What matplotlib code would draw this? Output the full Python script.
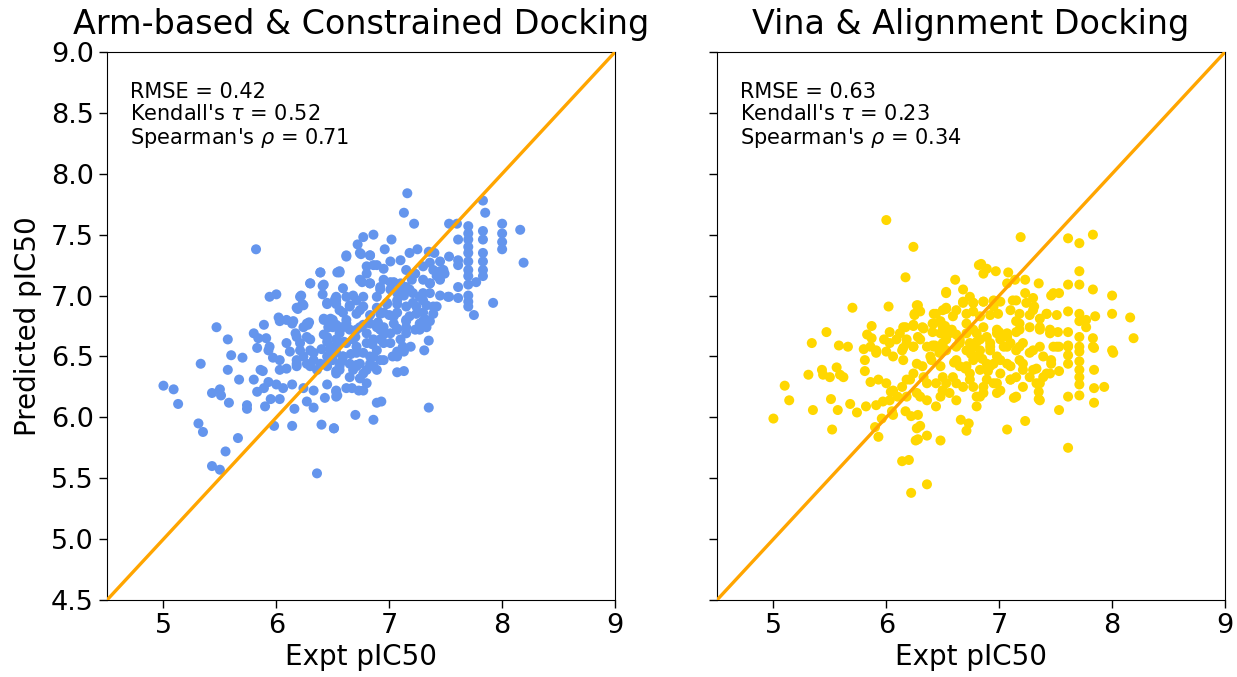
import numpy as np
import matplotlib
matplotlib.use("Agg")
import matplotlib.pyplot as plt


#%% Data
# Left panel: Arm-based & Constrained Docking
Expt_Arm = [
    5.82, 6.39, 6.54, 6.30, 6.41, 6.41, 6.22, 6.00, 5.94, 6.23, 6.19, 6.45, 6.52, 6.02, 6.09, 6.14,
    5.47, 5.89, 6.29, 6.24, 6.42, 6.48, 6.46, 6.53,
    7.16, 7.13, 7.22, 7.83, 7.85, 7.53, 7.60, 8.00, 8.16, 8.19,
    7.70, 7.70, 7.70, 7.70, 7.70, 7.70, 7.70, 7.70, 7.70, 7.70, 7.70, 7.70,
    7.83, 7.83, 7.83, 7.83, 7.83, 7.83, 8.00, 8.00, 8.00, 7.77, 7.92, 7.75,
    7.61, 7.61, 7.61, 7.61, 7.61, 7.53, 7.48, 7.45, 7.49, 7.53,
    6.77, 6.72, 6.86, 7.02, 6.96, 7.18, 7.25, 7.10, 7.01, 6.62, 6.74, 6.83, 6.56,
    7.35, 7.40, 7.36, 7.45, 7.30, 7.39, 7.45, 6.80, 6.86, 6.95, 7.15, 7.23, 7.20, 7.30, 7.36,
    6.74, 6.83, 6.95, 7.04, 7.10, 7.15, 6.59, 6.53, 6.68, 6.77, 6.92, 7.01, 7.07, 7.13, 7.21,
    7.27, 7.36, 7.45, 7.52,
    6.53, 6.65, 6.77, 6.89, 6.98, 7.07, 7.15, 7.24, 7.33, 7.42,
    6.59, 6.71, 6.83, 6.95, 7.07, 7.18, 7.30, 7.39,
    6.50, 6.62, 6.77, 6.89, 7.04, 7.15, 7.27, 7.36,
    5.57, 5.33, 5.60, 5.70, 5.57, 5.67, 5.00, 5.09, 5.13, 5.43, 5.50, 5.51, 5.58, 5.74, 5.74,
    5.31, 5.35, 5.66, 5.55, 5.43, 5.50, 6.36, 5.98, 6.14, 6.40, 6.51,
    6.16, 6.33, 6.27, 6.43, 6.53, 5.90, 5.95, 6.03,
    5.80, 5.86, 5.88, 5.93, 5.83, 5.89, 6.00, 6.06, 6.14, 6.24, 6.33, 6.45, 6.53, 6.03, 6.09,
    6.18, 6.27, 6.36, 6.45, 6.53,
    5.80, 5.84, 5.91, 5.94, 5.83, 5.93, 6.09, 6.17, 6.12, 6.21, 6.27, 6.30, 6.24, 6.33, 6.18,
    5.97, 6.03, 6.42, 6.48, 6.53, 6.45, 6.39, 6.53, 6.56, 6.28, 6.03, 6.14,
    7.35, 6.89, 6.93, 6.70, 6.86, 6.51, 6.53, 6.54, 6.62, 6.67, 6.73, 6.77, 6.80, 7.07, 7.13,
    6.65, 6.74, 6.77, 6.89, 6.83, 6.71, 6.53, 7.03, 7.07, 7.13, 7.19, 7.31,
    7.35, 7.33, 7.30, 7.23, 7.15, 7.07, 7.10, 7.01, 6.95, 6.89, 6.86, 6.92,
    6.50, 6.56, 6.65, 6.74, 6.80, 6.53, 6.62, 6.71, 6.77, 6.86, 6.50, 6.59, 6.65, 6.74, 6.56,
    6.68, 6.80,
    6.60, 6.70, 6.85, 6.95, 6.45, 6.62, 6.90, 7.00, 6.40, 6.58, 6.66, 6.92,
    # dense core
    6.62, 6.75, 6.83, 6.39, 6.56, 6.30, 6.42, 6.80, 6.89, 6.83, 6.76, 6.92,
    7.01, 7.10, 7.18, 7.30, 7.36, 7.42, 6.21, 6.24, 6.18,
    6.45, 6.53, 6.62, 6.71, 6.65, 6.56, 6.74,
    6.89, 6.98, 7.07, 7.13, 7.21, 7.30, 7.39, 6.92, 7.04, 7.15, 7.24, 7.33,
    6.15, 6.27, 6.42, 6.50, 6.59, 6.71, 6.83, 6.95, 7.07, 7.15, 7.27,
    6.18, 6.30, 6.45, 6.56, 6.68, 6.80, 6.92, 7.01, 7.12, 6.21, 6.33, 6.48, 6.59, 6.71, 6.83,
    6.95, 7.07, 6.18, 6.30, 6.45, 6.56, 6.71, 6.86,
]
Pred_Arm = [
    7.38, 7.19, 7.19, 7.10, 7.08, 7.01, 7.00, 7.01, 6.99, 6.93, 6.89, 6.93, 6.97, 6.82, 6.80, 6.78,
    6.74, 6.76, 6.78, 6.74, 6.81, 6.81, 6.74, 6.76,
    7.84, 7.68, 7.59, 7.78, 7.68, 7.59, 7.59, 7.59, 7.54, 7.27,
    7.57, 7.51, 7.46, 7.40, 7.35, 7.28, 7.21, 7.16, 7.09, 7.00, 6.95, 6.91,
    7.53, 7.46, 7.35, 7.28, 7.21, 7.16, 7.51, 7.44, 7.38, 7.11, 6.94, 6.84,
    7.46, 7.29, 7.25, 7.07, 6.98, 7.32, 7.21, 7.13, 7.18, 6.99,
    7.48, 7.42, 7.50, 7.46, 7.38, 7.35, 7.38, 7.29, 7.28, 7.32, 7.35, 7.33, 7.20,
    7.36, 7.35, 7.27, 7.28, 7.24, 7.21, 7.20, 7.24, 7.25, 7.22, 7.21, 7.18, 7.13, 7.13, 7.10,
    7.13, 7.10, 7.13, 7.11, 7.07, 7.07, 7.06, 6.99, 7.00, 6.99, 7.05, 7.05, 7.02, 7.00, 7.02,
    6.99, 7.02, 7.00, 6.99,
    6.93, 6.92, 6.91, 6.90, 6.93, 6.93, 6.91, 6.91, 6.92, 6.91,
    6.86, 6.85, 6.84, 6.86, 6.86, 6.83, 6.86, 6.85,
    6.80, 6.77, 6.76, 6.74, 6.77, 6.74, 6.77, 6.79,
    6.64, 6.44, 6.51, 6.49, 6.39, 6.31, 6.26, 6.23, 6.11, 6.20, 6.23, 6.18, 6.12, 6.10, 6.07,
    5.95, 5.88, 5.83, 5.72, 5.60, 5.57, 5.54, 5.93, 5.93, 5.94, 5.91,
    6.07, 6.08, 6.13, 6.16, 6.17, 6.09, 6.15, 6.15,
    6.31, 6.39, 6.38, 6.29, 6.21, 6.24, 6.27, 6.24, 6.27, 6.24, 6.22, 6.27, 6.21, 6.39, 6.40,
    6.42, 6.44, 6.39, 6.42, 6.36,
    6.69, 6.65, 6.65, 6.58, 6.57, 6.55, 6.61, 6.69, 6.54, 6.61, 6.66, 6.55, 6.50, 6.47, 6.47,
    6.49, 6.47, 6.68, 6.58, 6.53, 6.50, 6.44, 6.64, 6.74, 6.76, 6.79, 6.77,
    6.08, 6.12, 6.13, 6.02, 5.98, 5.91, 6.22, 6.18, 6.24, 6.24, 6.22, 6.22, 6.28, 6.37, 6.38,
    6.33, 6.32, 6.36, 6.39, 6.44, 6.42, 6.38, 6.50, 6.54, 6.54, 6.58, 6.55,
    6.63, 6.74, 6.79, 6.72, 6.79, 6.73, 6.64, 6.69, 6.61, 6.55, 6.64, 6.72,
    6.74, 6.69, 6.72, 6.74, 6.69, 6.58, 6.61, 6.58, 6.53, 6.50, 6.47, 6.50, 6.44, 6.44, 6.39,
    6.39, 6.39,
    6.62, 6.66, 6.60, 6.68, 6.62, 6.80, 6.78, 6.84, 6.56, 6.46, 6.52, 6.47,
    # dense core
    7.33, 7.34, 7.33, 7.19, 7.19, 7.10, 7.09, 7.18, 7.25, 7.10, 7.11, 7.07,
    7.11, 7.10, 7.05, 7.02, 7.10, 7.16, 6.99, 6.92, 6.90,
    6.94, 6.96, 6.99, 6.96, 6.91, 6.88, 6.88,
    6.99, 6.94, 6.96, 7.02, 6.94, 6.96, 6.91, 6.85, 6.83, 6.80, 6.85, 6.80,
    6.79, 6.77, 6.80, 6.77, 6.74, 6.72, 6.77, 6.74, 6.72, 6.69, 6.72,
    6.66, 6.64, 6.66, 6.61, 6.64, 6.61, 6.64, 6.61, 6.58, 6.55, 6.53, 6.55, 6.50, 6.53, 6.50,
    6.47, 6.50, 6.44, 6.42, 6.44, 6.42, 6.43, 6.42,
]

# Right panel: Vina & Alignment Docking
Expt_Vina = [
    6.00, 6.24, 6.17, 6.53, 5.70, 6.02, 6.28, 6.30, 6.25, 6.44, 6.53, 5.47, 5.34,
    5.87, 5.83, 5.87, 6.03, 5.98, 5.58, 5.66, 5.80, 5.91,
    6.17, 6.24, 6.32, 6.12, 6.18, 6.28, 6.09, 6.41, 6.48, 6.52, 6.41, 6.48, 6.41, 6.53, 6.24, 6.15,
    7.19, 7.61, 7.71, 7.83, 6.84, 6.82, 6.89, 6.86, 6.97, 7.08,
    6.61, 6.53, 6.68, 6.74, 6.68, 6.77, 6.86, 6.95, 7.01, 7.07, 7.14, 7.23, 7.35, 7.15, 7.23,
    7.30, 7.31, 7.46, 7.53, 7.61, 7.71, 7.71, 7.83, 8.00, 8.00, 8.16, 8.19,
    6.53, 6.62, 6.71, 6.77, 6.83, 6.92, 6.99, 7.10, 7.18, 7.27, 7.36, 7.42, 7.51, 7.61, 7.71,
    7.71, 7.77, 7.85, 7.77, 7.71, 7.83, 7.61, 7.52, 7.45, 7.36, 7.27, 7.18, 7.15, 7.07, 6.98,
    6.89, 6.80, 6.71, 6.62, 6.53, 6.50, 6.65, 6.77, 6.92, 7.07, 7.21, 7.36, 7.51, 7.61, 7.71,
    7.83, 8.00,
    5.00, 5.10, 5.14, 5.31, 5.35, 5.52, 5.51, 5.57, 5.68, 5.74, 5.43, 5.44, 5.50, 5.56, 5.59,
    5.62,
    5.82, 5.91, 5.97, 6.03, 5.90, 5.93, 5.96, 6.05, 6.06, 6.17, 6.22, 6.28, 6.27, 6.30, 6.26,
    6.28, 6.36, 6.48, 6.14, 6.20, 6.36, 6.22,
    5.81, 5.91, 6.00, 6.06, 5.81, 5.86, 5.93, 6.00, 6.06, 6.14, 6.18, 6.24, 6.32, 6.40, 6.47,
    6.53, 6.44, 6.50, 6.36, 6.44, 6.33, 6.27, 6.18, 6.10, 6.04, 5.86, 6.03, 6.14, 6.24, 6.36,
    6.43,
    7.61, 7.53, 7.23, 7.07, 6.66, 6.73, 6.71, 6.80, 6.83, 6.86, 7.13, 7.35, 7.35,
    7.61, 7.71, 7.84, 7.84, 7.93, 8.01, 7.71, 7.71, 7.71, 7.71, 7.61, 7.61, 7.53, 7.53, 7.46,
    7.46, 7.84, 7.84, 7.71, 7.61,
    7.36, 7.39, 7.33, 7.45, 7.27, 7.21, 7.15, 7.10, 7.18, 7.07, 7.27, 7.15, 7.04, 6.92, 7.01,
    6.95, 7.01, 6.89, 6.83, 6.74, 6.65, 6.77, 6.59, 6.53, 6.56, 6.50, 6.68, 6.77, 6.92, 6.98,
    6.83, 6.71, 6.62,
    6.60, 6.70, 6.85, 6.95, 6.65, 6.75, 6.90, 6.58, 6.80, 7.00,
    # dense core
    6.27, 6.25, 6.42, 6.50, 6.59, 6.68, 6.77, 6.86, 6.95, 7.12, 7.24, 7.30, 7.42, 7.48,
    6.15, 6.24, 6.33, 6.42, 6.50, 6.56, 6.71, 6.77, 6.86, 6.98, 7.07, 7.15, 7.18, 7.36, 7.45,
    6.18, 6.30, 6.42, 6.50, 6.65, 6.74, 6.83, 6.92, 7.01, 7.10, 7.18, 7.30, 7.39, 7.48,
    6.15, 6.27, 6.39, 6.48, 6.62, 6.71, 6.80, 6.89, 7.01, 7.10, 7.21, 7.30, 7.42,
    6.21, 6.36, 6.50, 6.62, 6.74, 6.86, 6.98, 7.10, 7.21, 7.33, 6.30, 6.48, 6.62, 6.80, 6.98,
    7.15, 7.36,
]
Pred_Vina = [
    7.62, 7.40, 7.15, 7.03, 6.90, 6.91, 6.92, 6.87, 6.84, 6.85, 6.89, 6.70, 6.61,
    6.75, 6.68, 6.65, 6.70, 6.64, 6.59, 6.58, 6.56, 6.55,
    6.74, 6.75, 6.74, 6.69, 6.64, 6.66, 6.64, 6.77, 6.79, 6.75, 6.70, 6.69, 6.59, 6.64, 6.58, 6.57,
    7.48, 7.47, 7.43, 7.50, 7.26, 7.25, 7.22, 7.18, 7.20, 7.19,
    7.13, 7.02, 7.05, 6.99, 6.95, 6.94, 6.95, 6.96, 6.95, 7.10, 7.13, 7.13, 7.10, 6.96, 7.02,
    6.98, 6.91, 7.00, 7.02, 7.09, 7.09, 7.20, 7.05, 7.00, 6.85, 6.82, 6.65,
    6.90, 6.88, 6.85, 6.87, 6.83, 6.84, 6.85, 6.88, 6.85, 6.84, 6.81, 6.85, 6.84, 6.87, 6.85,
    6.79, 6.80, 6.83, 6.74, 6.66, 6.65, 6.70, 6.70, 6.69, 6.72, 6.74, 6.77, 6.70, 6.66, 6.69,
    6.66, 6.69, 6.69, 6.68, 6.69, 6.58, 6.61, 6.58, 6.61, 6.58, 6.61, 6.58, 6.58, 6.58, 6.58,
    6.58, 6.55,
    5.99, 6.26, 6.14, 6.35, 6.06, 5.90, 6.15, 6.06, 6.11, 6.04, 6.39, 6.35, 6.33, 6.41, 6.35,
    6.33,
    6.09, 6.10, 6.13, 6.14, 5.92, 5.84, 5.99, 6.05, 6.02, 6.05, 6.01, 6.02, 5.91, 5.93, 5.81,
    5.82, 5.85, 5.81, 5.64, 5.65, 5.45, 5.38,
    6.47, 6.53, 6.54, 6.50, 6.38, 6.29, 6.31, 6.28, 6.22, 6.25, 6.31, 6.36, 6.42, 6.47, 6.53,
    6.55, 6.28, 6.22, 6.14, 6.09, 6.33, 6.20, 6.17, 6.17, 6.21, 6.58, 6.61, 6.55, 6.58, 6.58,
    6.59,
    5.75, 6.06, 5.97, 5.90, 5.98, 5.95, 5.89, 6.09, 6.17, 6.20, 6.16, 6.15, 6.21,
    6.17, 6.18, 6.24, 6.12, 6.25, 6.53, 6.27, 6.33, 6.39, 6.46, 6.51, 6.44, 6.58, 6.38, 6.47,
    6.44, 6.39, 6.57, 6.54, 6.59,
    6.28, 6.33, 6.40, 6.36, 6.33, 6.39, 6.33, 6.31, 6.47, 6.44, 6.53, 6.55, 6.58, 6.55, 6.36,
    6.28, 6.22, 6.31, 6.39, 6.36, 6.42, 6.47, 6.33, 6.28, 6.20, 6.22, 6.25, 6.25, 6.42, 6.50,
    6.55, 6.55, 6.58,
    6.45, 6.40, 6.48, 6.44, 6.62, 6.52, 6.38, 6.72, 6.62, 6.70,
    # dense core
    6.92, 6.85, 6.85, 6.88, 6.83, 6.94, 6.94, 6.95, 6.91, 6.96, 6.94, 6.88, 6.85, 7.02,
    6.74, 6.76, 6.73, 6.77, 6.74, 6.69, 6.77, 6.72, 6.74, 6.72, 6.69, 6.79, 6.72, 6.74, 6.72,
    6.61, 6.64, 6.58, 6.61, 6.64, 6.61, 6.64, 6.58, 6.64, 6.61, 6.58, 6.55, 6.50, 6.58,
    6.47, 6.44, 6.50, 6.42, 6.47, 6.42, 6.50, 6.44, 6.47, 6.42, 6.44, 6.39, 6.36,
    6.31, 6.28, 6.33, 6.28, 6.31, 6.25, 6.28, 6.31, 6.25, 6.28, 6.17, 6.17, 6.14, 6.17, 6.20,
    6.17, 6.14,
]

Titles = ["Arm-based & Constrained Docking", "Vina & Alignment Docking"]
Stats = [
    ["RMSE = 0.42", r"Kendall's $\tau$ = 0.52", r"Spearman's $\rho$ = 0.71"],
    ["RMSE = 0.63", r"Kendall's $\tau$ = 0.23", r"Spearman's $\rho$ = 0.34"],
]

XTicks = [5, 6, 7, 8, 9]
YTicks = [4.5, 5.0, 5.5, 6.0, 6.5, 7.0, 7.5, 8.0, 8.5, 9.0]
Lims = [4.5, 9.0]


#%% Style
Colors = ["#6495ED", "#FFD700"]
Line_Color = "#FFA500"

FontSize_Title = 24
FontSize_Tick = 19.5
FontSize_Label = 20
FontSize_Stats = 15


#%% Figure
Fig = plt.figure(figsize=[12.37, 6.77], dpi=100)

ax_left = Fig.add_axes([0.0865, 0.1137, 0.4107, 0.8095])
ax_right = Fig.add_axes([0.5796, 0.1137, 0.4107, 0.8095], sharey=ax_left)

for ax, xs, ys, color, title, stats in zip([ax_left, ax_right],
                                          [Expt_Arm, Expt_Vina],
                                          [Pred_Arm, Pred_Vina],
                                          Colors, Titles, Stats):
    ax.scatter(xs, ys, s=52, c=color, edgecolors="none", zorder=2)
    ax.plot(Lims, Lims, color=Line_Color, linewidth=2.4, zorder=3)

    ax.set_xlim(Lims)
    ax.set_ylim(Lims)
    ax.set_xticks(XTicks)
    ax.set_yticks(YTicks)
    ax.tick_params(labelsize=FontSize_Tick, length=6, width=1)

    ax.set_title(title, fontsize=FontSize_Title, pad=13)
    ax.set_xlabel("Expt pIC50", fontsize=FontSize_Label, labelpad=3)

    ax.text(0.045, 0.945, "\n".join(stats), transform=ax.transAxes,
            fontsize=FontSize_Stats, va="top", ha="left", linespacing=1.12)

ax_left.set_ylabel("Predicted pIC50", fontsize=FontSize_Label, labelpad=6)
ax_left.set_yticklabels(["%.1f" % t for t in YTicks])
plt.setp(ax_right.get_yticklabels(), visible=False)

Fig.savefig("out.png", dpi=100)
